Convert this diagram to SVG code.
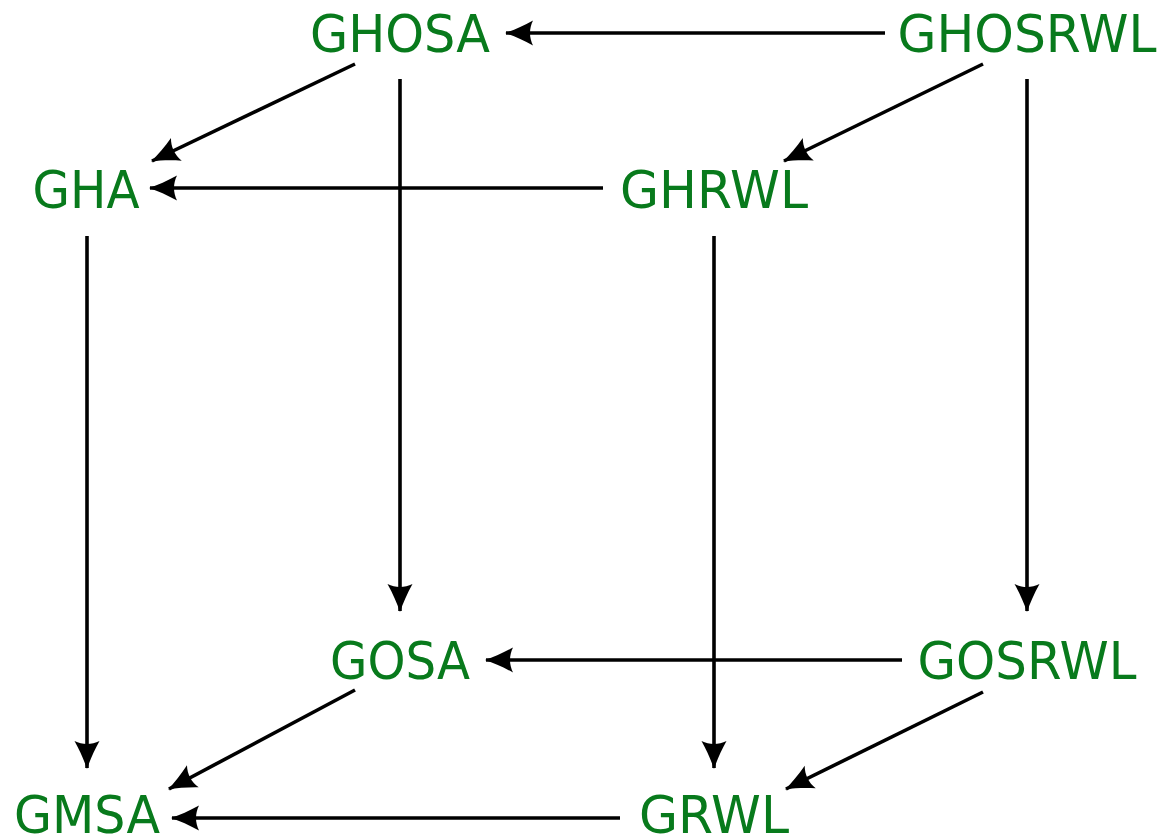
<svg xmlns="http://www.w3.org/2000/svg" width="1162" height="840" viewBox="0 0 1162 840">
<defs>
<style>
.lbl{font-family:"DejaVu Sans","Liberation Sans",sans-serif;font-size:52px;fill:#087a1c;text-anchor:middle}
.e{stroke:#000;stroke-width:3.6;fill:none;marker-end:url(#ah)}
</style>
<marker id="ah" markerUnits="userSpaceOnUse" viewBox="-29 -14 31 28" refX="0" refY="0" markerWidth="31" markerHeight="28" orient="auto">
<path d="M1,0 C-8,-3 -17,-7 -27,-12.5 C-23,-4.5 -23,4.5 -27,12.5 C-17,7 -8,3 1,0 Z" fill="#000"/>
</marker>
</defs>
<rect width="1162" height="840" fill="#fff"/>
<g id="connectors">
<line class="e" x1="885" y1="33" x2="506" y2="33"/>
<line class="e" x1="355" y1="64" x2="152" y2="161"/>
<line class="e" x1="983" y1="64" x2="784" y2="161"/>
<line class="e" x1="603" y1="188" x2="150" y2="188"/>
<line class="e" x1="400" y1="79" x2="400" y2="611"/>
<line class="e" x1="1027" y1="79" x2="1027" y2="611"/>
<line class="e" x1="87" y1="236" x2="87" y2="768"/>
<line class="e" x1="714" y1="236" x2="714" y2="768"/>
<line class="e" x1="902" y1="660" x2="486" y2="660"/>
<line class="e" x1="355" y1="690" x2="169" y2="789"/>
<line class="e" x1="983" y1="692" x2="786" y2="789"/>
<line class="e" x1="620" y1="818" x2="172" y2="818"/>
</g>
<g id="GHOSA"><text class="lbl" x="400" y="52" textLength="180" lengthAdjust="spacingAndGlyphs">GHOSA</text></g>
<g id="GHOSRWL"><text class="lbl" x="1027" y="52" textLength="259" lengthAdjust="spacingAndGlyphs">GHOSRWL</text></g>
<g id="GHA"><text class="lbl" x="86" y="208" textLength="107" lengthAdjust="spacingAndGlyphs">GHA</text></g>
<g id="GHRWL"><text class="lbl" x="714" y="208" textLength="188" lengthAdjust="spacingAndGlyphs">GHRWL</text></g>
<g id="GOSA"><text class="lbl" x="400" y="679" textLength="140" lengthAdjust="spacingAndGlyphs">GOSA</text></g>
<g id="GOSRWL"><text class="lbl" x="1027" y="679" textLength="219" lengthAdjust="spacingAndGlyphs">GOSRWL</text></g>
<g id="GMSA"><text class="lbl" x="87" y="833" textLength="146" lengthAdjust="spacingAndGlyphs">GMSA</text></g>
<g id="GRWL"><text class="lbl" x="714" y="833" textLength="150" lengthAdjust="spacingAndGlyphs">GRWL</text></g>
</svg>
